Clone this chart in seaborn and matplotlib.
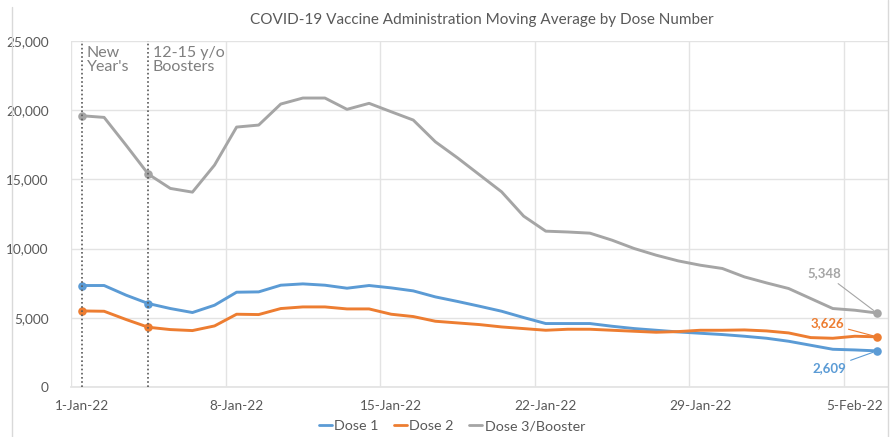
import numpy as np
import pandas as pd
import matplotlib
matplotlib.use("Agg")
import matplotlib.pyplot as plt
from matplotlib.lines import Line2D
from matplotlib.ticker import FuncFormatter, MultipleLocator
import seaborn as sns

# Daily 7-day moving averages, 1 Jan 2022 - 6 Feb 2022
dates = pd.date_range("2022-01-01", "2022-02-06", freq="D")

dose1 = [7333, 7333, 6632, 6031, 5669, 5380, 5909, 6849, 6873, 7355,
         7451, 7355, 7138, 7333, 7162, 6945, 6511, 6183, 5836, 5475,
         5017, 4585, 4585, 4585, 4390, 4223, 4100, 3978, 3883, 3790,
         3667, 3522, 3305, 3016, 2726, 2677, 2609]

dose2 = [5496, 5472, 4873, 4317, 4149, 4077, 4412, 5258, 5234, 5669,
         5786, 5786, 5641, 5641, 5258, 5090, 4751, 4630, 4510, 4340,
         4220, 4100, 4173, 4173, 4100, 4028, 3956, 4004, 4100, 4100,
         4124, 4052, 3907, 3570, 3522, 3667, 3626]

dose3 = [19598, 19480, 17458, 15383, 14348, 14080, 16034, 18781, 18926, 20445,
         20879, 20879, 20062, 20496, 19888, 19288, 17719, 16562, 15332, 14103,
         12345, 11260, 11200, 11116, 10610, 10009, 9525, 9112, 8800, 8562,
         7955, 7521, 7116, 6393, 5670, 5547, 5348]

series_names = ["Dose 1", "Dose 2", "Dose 3/Booster"]
series_colors = ["#5B9BD5", "#ED7D31", "#A5A5A5"]

event_dates = [pd.Timestamp("2022-01-01"), pd.Timestamp("2022-01-04")]
event_labels = ["New\nYear's", "12-15 y/o\nBoosters"]

title = "COVID-19 Vaccine Administration Moving Average by Dose Number"

df = pd.DataFrame({
    "date": np.tile(dates, 3),
    "value": dose1 + dose2 + dose3,
    "series": np.repeat(series_names, len(dates)),
})

sns.set_theme(style="white")
plt.rcParams["font.family"] = ["Lato", "DejaVu Sans"]
text_gray = "#595959"
grid_gray = "#e3e3e3"

fig = plt.figure(figsize=(8.95, 4.37), dpi=100)
ax = fig.add_axes([71 / 895, 1 - 387 / 437, (888 - 71) / 895, (387 - 41) / 437])

sns.lineplot(data=df, x="date", y="value", hue="series", hue_order=series_names,
             palette=series_colors, linewidth=2.1, ax=ax, legend=False)

# markers at the event days and the last day
marker_dates = event_dates + [dates[-1]]
for name, color, vals in zip(series_names, series_colors, [dose1, dose2, dose3]):
    s = pd.Series(vals, index=dates)
    ax.scatter(marker_dates, s.loc[marker_dates].values, s=38, color=color,
               zorder=5, linewidths=0)

# event lines and labels
for d, lab in zip(event_dates, event_labels):
    ax.axvline(d, color="#595959", lw=1.2, ls=(0, (1, 1.5)), zorder=6)
    ax.text(d + pd.Timedelta(hours=5), 24650, lab, ha="left", va="top",
            fontsize=11.5, color="#7f7f7f", linespacing=1.05)

# end-of-series value labels
end_label_pos = [(1374, 34.6), (4585, 34.5), (8201, 34.4)]
for name, color, vals, (ty, tx) in zip(series_names, series_colors,
                                       [dose1, dose2, dose3], end_label_pos):
    ax.annotate(f"{vals[-1]:,}", xy=(dates[-1], vals[-1]),
                xytext=(dates[0] + pd.Timedelta(days=tx), ty), textcoords="data",
                ha="right", va="center", fontsize=9.5, fontweight="bold",
                color=color,
                arrowprops=dict(arrowstyle="-", color=color, lw=0.8,
                                shrinkA=1, shrinkB=3))

# axes styling
ax.set_xlim(dates[0] - pd.Timedelta(hours=12), dates[-1] + pd.Timedelta(hours=12))
ax.set_ylim(0, 25000)
ax.yaxis.set_major_locator(MultipleLocator(5000))
ax.yaxis.set_major_formatter(FuncFormatter(lambda v, p: f"{int(v):,}"))

tick_dates = dates[::7]
ax.set_xticks(tick_dates)
ax.set_xticklabels([f"{d.day}-{d.strftime('%b')}-{d.strftime('%y')}" for d in tick_dates])
ax.set_xticks([d - pd.Timedelta(hours=12) for d in tick_dates], minor=True)

ax.grid(False)
ax.yaxis.grid(True, color=grid_gray, lw=1.0)
ax.xaxis.grid(True, which="minor", color=grid_gray, lw=1.0)
ax.set_axisbelow(True)

ax.tick_params(axis="y", length=0, pad=16, labelsize=9.8, labelcolor=text_gray)
ax.tick_params(axis="x", which="major", length=0, pad=9, labelsize=9.8,
               labelcolor=text_gray)
ax.tick_params(axis="x", which="minor", length=3, color=grid_gray)
for side in ["top", "right", "left"]:
    ax.spines[side].set_visible(False)
ax.spines["bottom"].set_color(grid_gray)
ax.set_xlabel("")
ax.set_ylabel("")

fig.text(482 / 895, 1 - 20 / 437, title, ha="center", va="center",
         fontsize=11, color=text_gray)

handles = [Line2D([0], [0], color=c, lw=2) for c in series_colors]
fig.legend(handles, series_names, loc="center", bbox_to_anchor=(452 / 895, 1 - 426 / 437),
           ncol=3, frameon=False, fontsize=10.3, handlelength=0.9,
           handletextpad=0.15, columnspacing=1.1, labelcolor=text_gray)

# chart area border
fig.add_artist(Line2D([12 / 895, 12 / 895], [0, 1 - 7 / 437], color="#d9d9d9", lw=1))
fig.add_artist(Line2D([888.5 / 895, 888.5 / 895], [0, 1], color="#d9d9d9", lw=1))

fig.savefig("out.png", dpi=100)
